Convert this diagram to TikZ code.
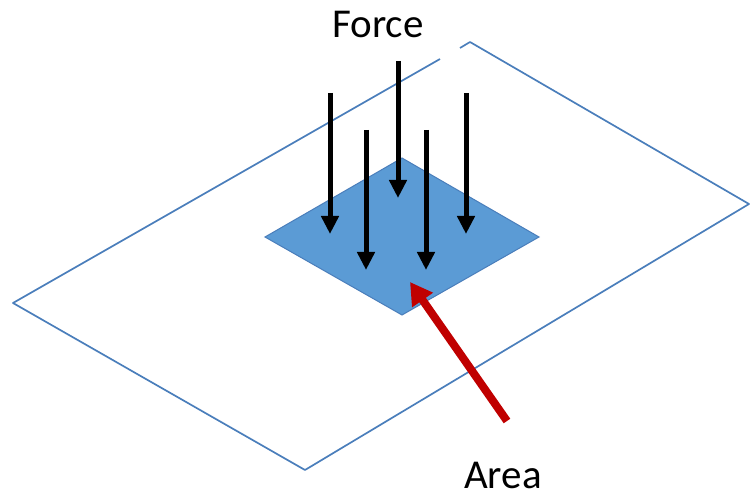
\documentclass[tikz,border=0pt]{standalone}
\usepackage{fontspec}
\setmainfont{Carlito}
\usetikzlibrary{arrows.meta}
\definecolor{planeline}{HTML}{4A7EBB}
\definecolor{areafill}{HTML}{5B9BD5}
\definecolor{areared}{HTML}{C00000}

\begin{document}
\begin{tikzpicture}[
        x=1pt, y=-1pt,
        plane/.style={draw=planeline, line width=1.7pt, line join=round},
        patch/.style={draw=planeline, line width=1pt, fill=areafill},
        forcearrow/.style={-{Triangle[width=17pt, length=18pt]}, line width=5pt, black},
        areaarrow/.style={-{Triangle[width=24pt, length=22pt]}, line width=8pt, areared},
        bigtext/.style={font=\fontsize{41}{48}\selectfont, anchor=base, inner sep=0pt}
    ]
    \useasboundingbox (0,0) rectangle (750,497);

    % plane
    \coordinate (pleft) at (13,303);
    \coordinate (ptop) at (470,42);
    \coordinate (pright) at (749,204);
    \coordinate (pbot) at (305,470);
    \coordinate (pgapa) at (440,59);
    \coordinate (pgapb) at (460,48);
    \draw[plane] (pgapb) -- (ptop) -- (pright) -- (pbot) -- (pleft) -- (pgapa);

    % area patch
    \coordinate (aleft) at (265,237);
    \coordinate (atop) at (402,158);
    \coordinate (aright) at (539,237);
    \coordinate (abot) at (402,315);
    \draw[patch] (aleft) -- (atop) -- (aright) -- (abot) -- cycle;

    % force arrows
    \foreach \i/\x/\ya/\yb in {1/330/93/234, 2/366/130/270, 3/398/61/198, 4/426/130/270, 5/466/93/234} {
        \coordinate (f\i a) at (\x,\ya);
        \coordinate (f\i b) at (\x,\yb);
        \draw[forcearrow] (f\i a) -- (f\i b);
    }

    % area arrow
    \coordinate (ra) at (507,421);
    \coordinate (rb) at (410,282);
    \draw[areaarrow] (ra) -- (rb);

    \node[bigtext] (force) at (378,38) {Force};
    \node[bigtext] (area) at (503,488) {Area};

\end{tikzpicture}
\end{document}
